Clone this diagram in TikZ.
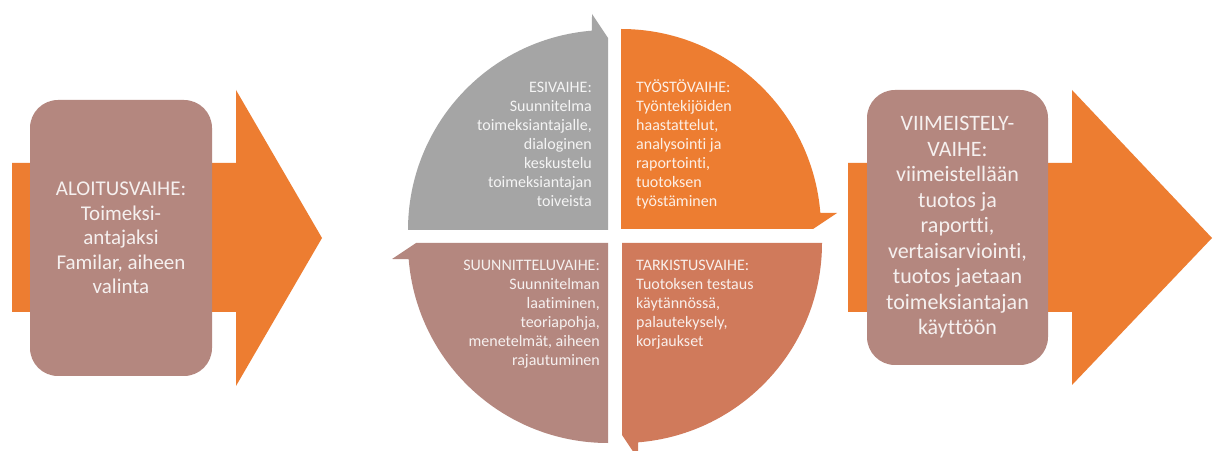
\documentclass[tikz,border=0pt]{standalone}
\usepackage{fontspec}
\setmainfont{Carlito}[Ligatures=NoCommon]
\usepackage{tikz}
\usetikzlibrary{positioning}

\definecolor{vorange}{HTML}{ED7D31}
\definecolor{vgray}{HTML}{A5A5A5}
\definecolor{vmauve}{HTML}{B4877F}
\definecolor{vbrown}{HTML}{D07A5B}

\tikzset{
  phasebox/.style={fill=vmauve,rounded corners=28pt,text=white,text opacity=0.88,
    align=center,inner sep=0pt},
  quadtext/.style={text=white,text opacity=0.88,inner sep=0pt,
    font=\fontsize{16}{19}\selectfont},
}

\begin{document}
\begin{tikzpicture}[x=1pt,y=1pt]
    \useasboundingbox (0,0) rectangle (1213,450);
    \fill[white] (0,0) rectangle (1213,450);
    \fill[vorange] (12,138) -- (236,138) -- (236,64) -- (322,212) -- (236,360)
      -- (236,287) -- (12,287) -- cycle;
    \fill[vorange] (848,138) -- (1072,138) -- (1072,65) -- (1212,212) -- (1072,360)
      -- (1072,287) -- (848,287) -- cycle;
    \foreach \rot/\cx/\cy/\col in {0/608/220/vgray,-90/621/221/vorange,
      180/622/207/vbrown,90/608/207/vmauve}
    {
      \fill[\col,shift={(\cx,\cy)},rotate=\rot] (0,0) -- (180:200)
        arc[start angle=180,end angle=94.6,radius=200] -- (-16,216) -- (0,192) -- cycle;
    }
    \node [phasebox,minimum width=182pt,minimum height=276pt,
      font=\fontsize{21}{24.5}\selectfont] (aloitus) at (121,212)
      {ALOITUSVAIHE:\\Toimeksi-\\antajaksi\\Familar, aiheen\\valinta};
    \node [phasebox,minimum width=181pt,minimum height=275pt,
      font=\fontsize{22}{25.5}\selectfont] (viimeistely) at (957.5,222.5)
      {VIIMEISTELY-\\VAIHE:\\viimeistellään\\tuotos ja\\raportti,\\vertaisarviointi,\\tuotos jaetaan\\toimeksiantajan\\käyttöön};
    \node [quadtext,anchor=east,align=right] (esivaihe) at (592,306)
      {ESIVAIHE:\\Suunnitelma\\toimeksiantajalle,\\dialoginen\\keskustelu\\toimeksiantajan\\toiveista};
    \node [quadtext,anchor=west,align=left] (tyostovaihe) at (636,305.5)
      {TYÖSTÖVAIHE:\\Työntekijöiden\\haastattelut,\\analysointi ja\\raportointi,\\tuotoksen\\työstäminen};
    \node [quadtext,anchor=east,align=right] (suunnitteluvaihe) at (600,135.5)
      {SUUNNITTELUVAIHE:\\Suunnitelman\\laatiminen,\\teoriapohja,\\menetelmät, aiheen\\rajautuminen};
    \node [quadtext,anchor=west,align=left] (tarkistusvaihe) at (636,145)
      {TARKISTUSVAIHE:\\Tuotoksen testaus\\käytännössä,\\palautekysely,\\korjaukset};
\end{tikzpicture}
\end{document}
